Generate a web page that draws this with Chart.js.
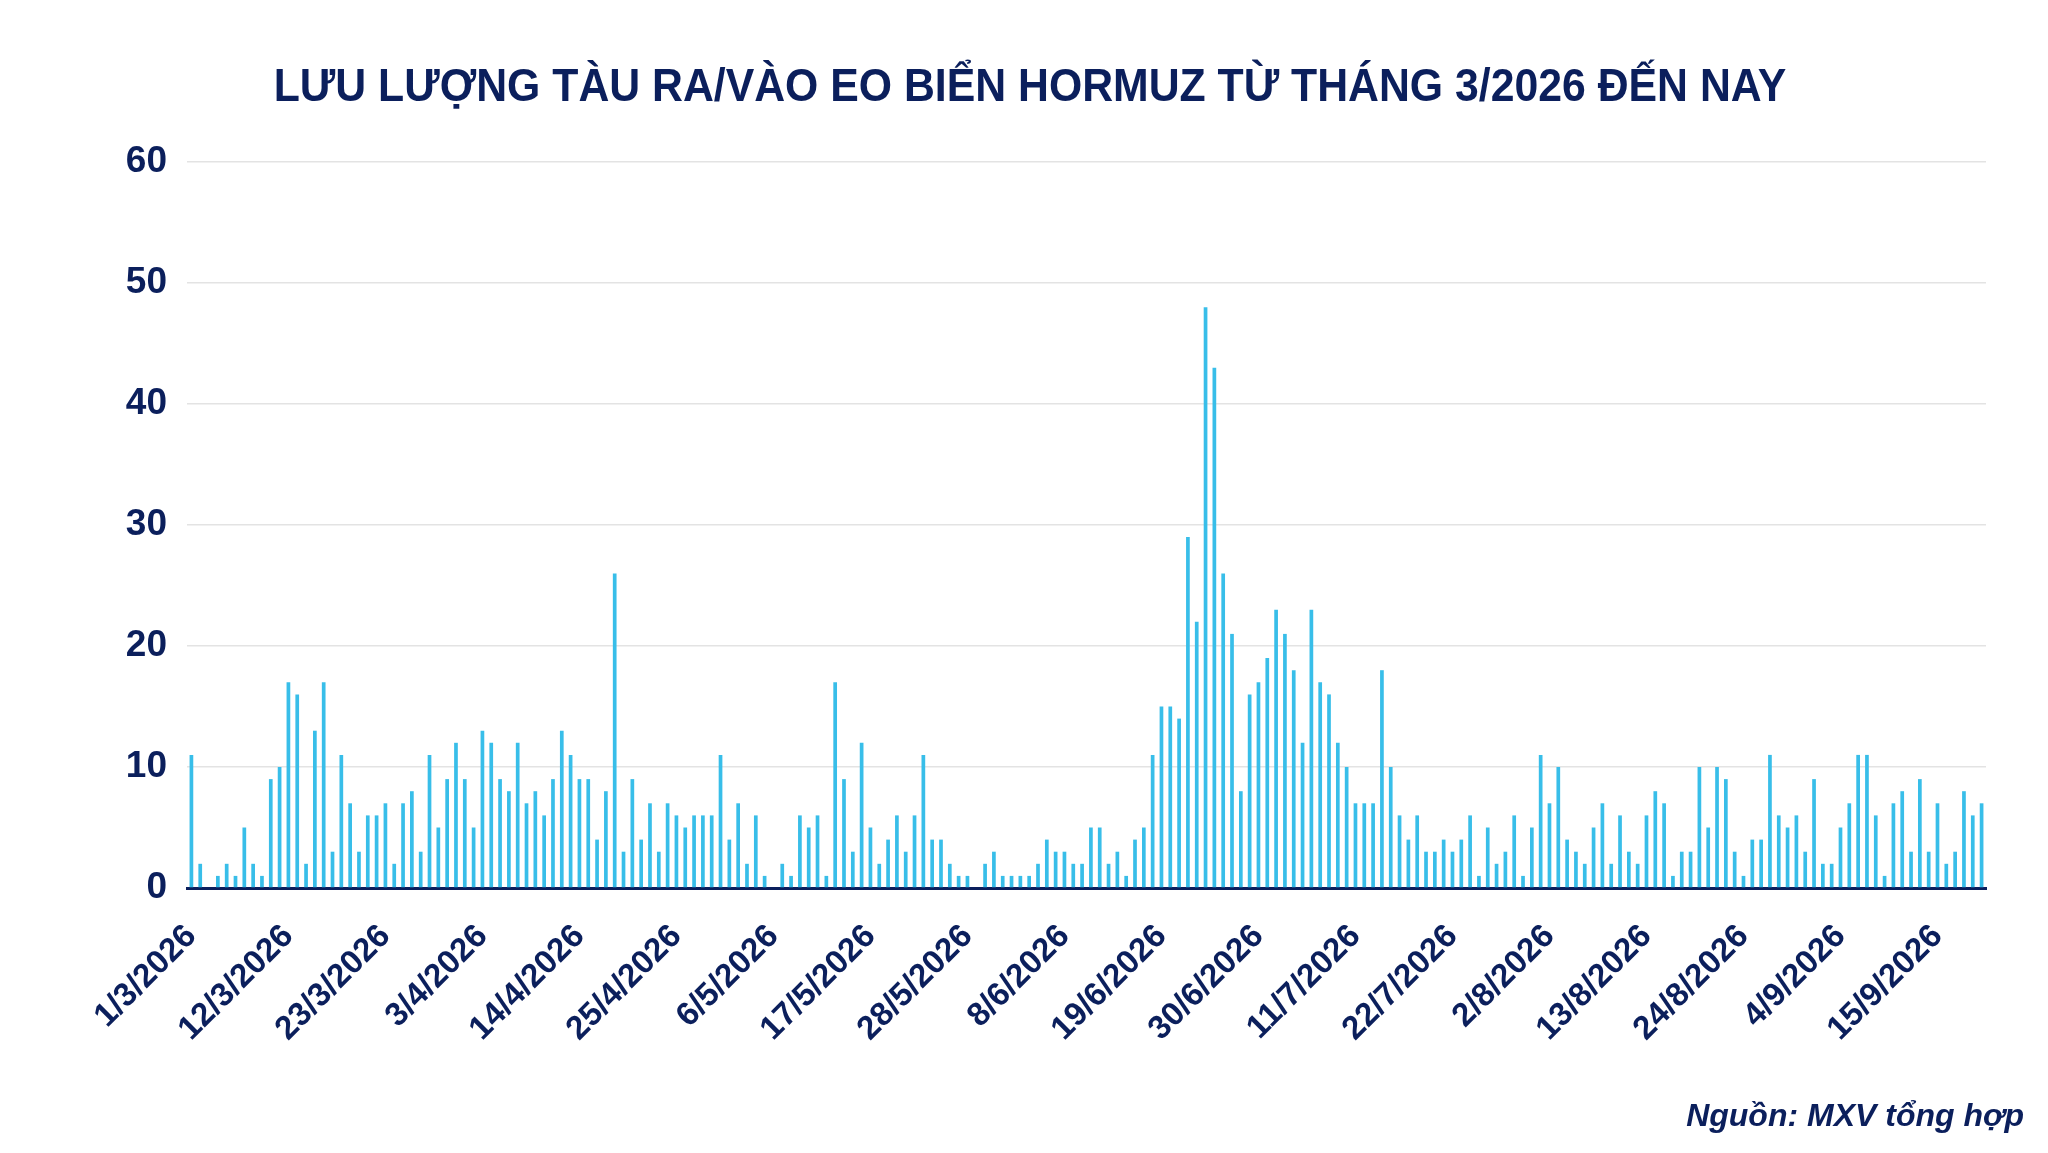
<!DOCTYPE html>
<html>
<head>
<meta charset="utf-8">
<script src="https://cdn.jsdelivr.net/npm/chart.js@4.4.1/dist/chart.umd.min.js"></script>
<style>
  html, body { margin: 0; padding: 0; background: #fff; }
  canvas { display: block; }
</style>
</head>
<body>
<canvas id="c" width="2048" height="1153"></canvas>
<script>
// số tàu ra/vào mỗi ngày, từ 1/3/2026
const startDay = [2026, 3, 1];
const ships = [
  11,2,0,1,2,1,5,2,1,9, 10,17,16,2,13,17,3,11,7,3, 6,6,7,2,7,8,3,11,5,9,
  12,9,5,13,12,9,8,12,7,8, 6,9,13,11,9,9,4,8,26,3, 9,4,7,3,7,6,5,6,6,6,
  11,4,7,2,6,1,0,2,1,6, 5,6,1,17,9,3,12,5,2,4, 6,3,6,11,4,4,2,1,1,0,
  2,3,1,1,1,1,2,4,3,3, 2,2,5,5,2,3,1,4,5,11, 15,15,14,29,22,48,43,26,21,8,
  16,17,19,23,21,18,12,23,17,16, 12,10,7,7,7,18,10,6,4,6, 3,3,4,3,4,6,1,5,2,3,
  6,1,5,11,7,10,4,3,2,5, 7,2,6,3,2,6,8,7,1,3, 3,10,5,10,9,3,1,4,4,11,
  6,5,6,3,9,2,2,5,7,11, 11,6,1,7,8,3,9,3,7,2, 3,8,6,7
];
const tickLabels = ['1/3/2026','12/3/2026','23/3/2026','3/4/2026','14/4/2026','25/4/2026',
  '6/5/2026','17/5/2026','28/5/2026','8/6/2026','19/6/2026','30/6/2026','11/7/2026',
  '22/7/2026','2/8/2026','13/8/2026','24/8/2026','4/9/2026','15/9/2026'];

// nhãn ngày cho từng cột
const days = ships.map((_, i) => {
  const d = new Date(startDay[0], startDay[1] - 1, startDay[2] + i);
  return d.getDate() + '/' + (d.getMonth() + 1) + '/' + d.getFullYear();
});

const NAVY = '#0b1f5c';
const FONT = "'Liberation Sans', Arial, sans-serif";

// tiêu đề + nguồn vẽ tay để đặt đúng chỗ như ảnh gốc
const texts = {
  id: 'texts',
  afterDraw(chart){
    const ctx = chart.ctx;
    ctx.save();
    ctx.fillStyle = NAVY;
    // font gốc hơi hẹp hơn Arial -> ép ngang một chút
    ctx.save();
    const sx = 0.91;
    ctx.scale(sx, 1);
    ctx.font = "bold 47px " + FONT;
    ctx.textAlign = 'center';
    ctx.textBaseline = 'middle';
    ctx.fillText('LƯU LƯỢNG TÀU RA/VÀO EO BIỂN HORMUZ TỪ THÁNG 3/2026 ĐẾN NAY', 1030 / sx, 88);
    ctx.restore();
    ctx.font = "italic bold 32px " + FONT;
    ctx.textAlign = 'right';
    ctx.textBaseline = 'alphabetic';
    ctx.fillText('Nguồn: MXV tổng hợp', 2024, 1126);
    ctx.restore();
  }
};

new Chart(document.getElementById('c').getContext('2d'), {
  type: 'bar',
  data: {
    labels: days,
    datasets: [{
      data: ships,
      backgroundColor: '#38bee9',
      barPercentage: 0.42,
      categoryPercentage: 1
    }]
  },
  options: {
    responsive: false,
    animation: false,
    devicePixelRatio: 1,
    layout: { padding: { left: 0, right: 62, top: 162, bottom: 65 } },
    plugins: {
      legend: { display: false },
      tooltip: { enabled: false },
      title: { display: false }
    },
    scales: {
      x: {
        grid: { display: false },
        border: { display: true, color: NAVY, width: 3 },
        ticks: {
          autoSkip: false,
          minRotation: 45,
          maxRotation: 45,
          padding: 21,
          color: NAVY,
          font: { family: FONT, size: 33, weight: 'bold' },
          callback(v, i){ const l = days[i]; return tickLabels.includes(l) ? l : null; }
        },
        afterFit(scale){ scale.height = 200; }
      },
      y: {
        min: 0, max: 60,
        grid: { color: '#e3e3e3', lineWidth: 1.5, drawTicks: false },
        border: { display: false },
        ticks: {
          stepSize: 10,
          padding: 20,
          color: NAVY,
          font: { family: FONT, size: 37, weight: 'bold' }
        },
        afterFit(scale){ scale.width = 187; }
      }
    }
  },
  plugins: [texts]
});
</script>
</body>
</html>
